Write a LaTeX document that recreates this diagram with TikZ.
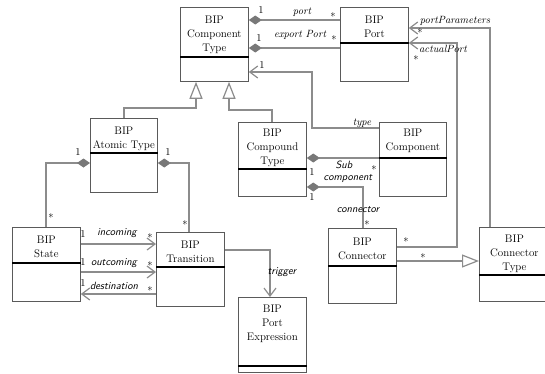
\documentclass[tikz,border=0pt]{standalone}
\usepackage{fontspec}
\usetikzlibrary{arrows.meta}

\definecolor{boxgray}{RGB}{90,90,90}
\definecolor{linegray}{RGB}{140,140,140}
\definecolor{diagray}{RGB}{120,120,120}

\tikzset{
  cls/.style={draw=boxgray, line width=0.8pt, anchor=north west, inner sep=0pt},
  title/.style={align=center, anchor=north, inner sep=0pt, font=\rmfamily\fontsize{11}{14}\selectfont},
  divider/.style={draw=black, line width=1.2pt},
  link/.style={draw=linegray, line width=1.2pt},
  comp/.style={{Diamond[fill=diagray, color=diagray, length=13pt, width=9pt]}-},
  nav/.style={-{Straight Barb[length=8pt, width=12pt]}},
  inh/.style={-{Triangle[open, fill=white, length=17pt, width=13pt]}},
  rlbl/.style={inner sep=0pt, font=\rmfamily\itshape\fontsize{10.5}{12}\selectfont},
  slbl/.style={inner sep=0pt, font=\sffamily\itshape\fontsize{10.5}{12}\selectfont},
  mult/.style={inner sep=0pt, font=\rmfamily\fontsize{10.5}{12}\selectfont}
}

\begin{document}
\begin{tikzpicture}[x=1pt, y=-1pt]
  \useasboundingbox (0,0) rectangle (545,373);
  \clip (0,0) rectangle (545,373);

  % classes
  \node[cls, minimum width=68pt, minimum height=74pt] (ct) at (180,7) {};
  \node[title] (ctT) at ([yshift=-9pt]ct.north) {BIP\\Component\\Type};
  \draw[divider] (ct.west |- 0,57) -- (ct.east |- 0,57);

  \node[cls, minimum width=68pt, minimum height=74pt] (port) at (340,7) {};
  \node[title] (portT) at ([yshift=-9pt]port.north) {BIP\\Port};
  \draw[divider] (port.west |- 0,43) -- (port.east |- 0,43);

  \node[cls, minimum width=67pt, minimum height=74pt] (atomic) at (90,118) {};
  \node[title] (atomicT) at ([yshift=-9pt]atomic.north) {BIP\\Atomic Type};
  \draw[divider] (atomic.west |- 0,153) -- (atomic.east |- 0,153);

  \node[cls, minimum width=68pt, minimum height=74pt] (compound) at (238,122) {};
  \node[title] (compoundT) at ([yshift=-7pt]compound.north) {BIP\\Compound\\Type};
  \draw[divider] (compound.west |- 0,169) -- (compound.east |- 0,169);

  \node[cls, minimum width=67pt, minimum height=74pt] (component) at (379,122) {};
  \node[title] (componentT) at ([yshift=-7pt]component.north) {BIP\\Component};
  \draw[divider] (component.west |- 0,158) -- (component.east |- 0,158);

  \node[cls, minimum width=68pt, minimum height=74pt] (state) at (12,227) {};
  \node[title] (stateT) at ([yshift=-9pt]state.north) {BIP\\State};
  \draw[divider] (state.west |- 0,263) -- (state.east |- 0,263);

  \node[cls, minimum width=68pt, minimum height=74pt] (trans) at (156,232) {};
  \node[title] (transT) at ([yshift=-9pt]trans.north) {BIP\\Transition};
  \draw[divider] (trans.west |- 0,267) -- (trans.east |- 0,267);

  \node[cls, minimum width=68pt, minimum height=75pt] (pexp) at (238,297) {};
  \node[title] (pexpT) at ([yshift=-8pt]pexp.north) {BIP\\Port\\Expression};
  \draw[divider] (pexp.west |- 0,366) -- (pexp.east |- 0,366);

  \node[cls, minimum width=68pt, minimum height=75pt] (conn) at (328,228) {};
  \node[title] (connT) at ([yshift=-10pt]conn.north) {BIP\\Connector};
  \draw[divider] (conn.west |- 0,266) -- (conn.east |- 0,266);

  \node[cls, minimum width=70pt, minimum height=74pt] (ctype) at (479,227) {};
  \node[title] (ctypeT) at ([yshift=-8pt]ctype.north) {BIP\\Connector\\Type};
  \draw[divider] (ctype.west |- 0,275) -- (ctype.east |- 0,275);

  % component type and port
  \draw[link, comp] (ct.east |- 0,20) -- (port.west |- 0,20);
  \node[mult] (m1) at (261,10) {1};
  \node[rlbl] (l1) at (302,12) {port};
  \node[mult] (m2) at (333,17) {*};

  \draw[link, comp] (ct.east |- 0,48) -- (port.west |- 0,48);
  \node[mult] (m3) at (259,38) {1};
  \node[rlbl] (l2) at (300,35) {export Port};
  \node[mult] (m4) at (334,40) {*};

  % type
  \draw[link, nav] (component.west |- 0,128) -- (312,128) |- (ct.east |- 0,72);
  \node[mult] (m5) at (262,65) {1};
  \node[rlbl] (l3) at (362,123) {type};

  % inheritance
  \draw[link, inh] (atomic.north) |- (196,108) -- (ct.south -| 196,0);
  \draw[link, inh] (compound.north -| 272,0) |- (229,110) -- (ct.south -| 229,0);

  % atomic type
  \draw[link, comp] (atomic.west |- 0,163) -| (state.north -| 46,0);
  \node[mult] (m6) at (78,152) {1};
  \node[mult] (m7) at (51,218) {*};
  \draw[link, comp] (atomic.east |- 0,163) -| (trans.north -| 189,0);
  \node[mult] (m8) at (168,152) {1};
  \node[mult] (m9) at (185,225) {*};

  % state and transition
  \draw[link, nav] (state.east |- 0,244) -- (trans.west |- 0,244);
  \node[mult] (m10) at (83,234) {1};
  \node[slbl] (l4) at (117,233) {incoming};
  \node[mult] (m11) at (150,238) {*};

  \draw[link, nav] (state.east |- 0,272) -- (trans.west |- 0,272);
  \node[mult] (m12) at (83,262) {1};
  \node[slbl] (l5) at (114,263) {outcoming};
  \node[mult] (m13) at (150,266) {*};

  \draw[link, nav] (trans.west |- 0,294) -- (state.east |- 0,294);
  \node[mult] (m14) at (83,283) {1};
  \node[slbl] (l6) at (114,286) {destination};
  \node[mult] (m15) at (150,291) {*};

  % trigger
  \draw[link, nav] (trans.east |- 0,250) -| (pexp.north -| 270,0);
  \node[slbl] (l7) at (282,272) {trigger};

  % compound type
  \draw[link, comp] (compound.east |- 0,158) -- (component.west |- 0,158);
  \node[mult] (m16) at (312,172) {1};
  \node[slbl] (l8) at (344,165) {Sub};
  \node[slbl] (l9) at (348,179) {component};
  \node[mult] (m17) at (374,170) {*};

  \draw[link, comp] (compound.east |- 0,187) -| (conn.north -| 363,0);
  \node[mult] (m18) at (312,197) {1};
  \node[slbl] (l10) at (358,210) {connector};
  \node[mult] (m19) at (367,225) {*};

  % connector
  \draw[link, nav] (conn.east |- 0,247) -| (457,43) -- (port.east |- 0,43);
  \node[mult] (m20) at (406,242) {*};
  \node[rlbl] (l11) at (443,49) {actualPort};
  \node[mult] (m21) at (416,60) {*};

  \draw[link, nav] (ctype.north -| 490,0) |- (port.east |- 0,28);
  \node[rlbl] (l12) at (455,21) {portParameters};
  \node[mult] (m22) at (420,33) {*};

  \draw[link, inh] (conn.east |- 0,261) -- (ctype.west |- 0,261);
  \node[mult] (m23) at (423,258) {*};
\end{tikzpicture}
\end{document}
